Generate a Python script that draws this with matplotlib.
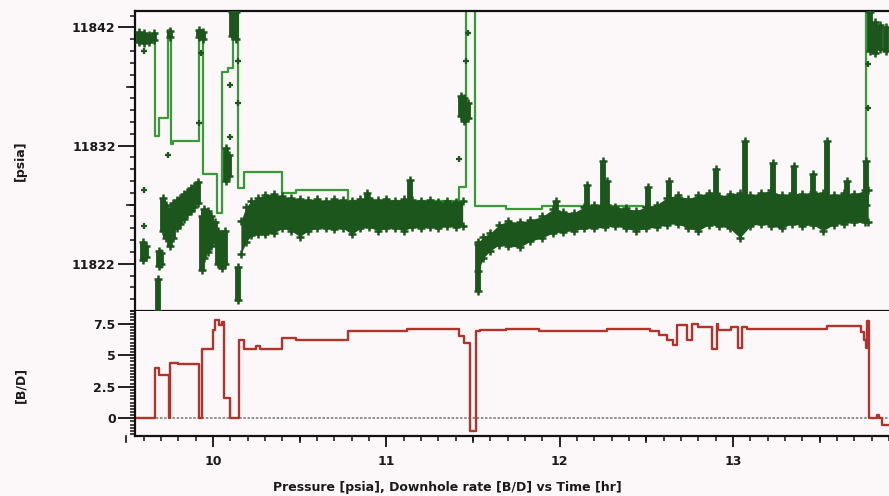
import matplotlib
matplotlib.use("Agg")
import matplotlib.pyplot as plt
import matplotlib.transforms as mtrans
from matplotlib.lines import Line2D
from matplotlib.ticker import FixedLocator, MultipleLocator
import numpy as np

# ---- pressure step line (psia vs hr), drawn as steps-post
line_t = [9.55, 9.666, 9.69, 9.74, 9.755, 9.77, 9.92, 9.94, 10.02, 10.05,
          10.085, 10.115, 10.145, 10.18, 10.40, 10.48, 10.78, 11.42, 11.46,
          11.51, 11.69, 11.90, 12.48, 13.77, 13.90]
line_p = [11841.4, 11832.85, 11834.3, 11841.8, 11832.1, 11832.4, 11841.8,
          11829.6, 11826.3, 11838.2, 11838.6, 11843.8, 11828.4, 11829.8,
          11828.0, 11828.2, 11827.3, 11828.5, 11843.8, 11826.9, 11826.6,
          11826.9, 11826.8, 11843.8, 11843.8]

# ---- gauge points: dense bands (lower / upper envelope)
band1_t = [10.16, 10.19, 10.22, 10.26, 10.30, 10.35, 10.40, 10.45, 10.50,
           10.55, 10.60, 10.65, 10.70, 10.75, 10.80, 10.85, 10.90, 10.95,
           11.00, 11.05, 11.10, 11.15, 11.20, 11.25, 11.30, 11.35, 11.40, 11.44]
band1_lo = [11822.8, 11823.8, 11824.4, 11824.5, 11824.5, 11824.6, 11825.0,
            11824.8, 11824.3, 11824.8, 11825.0, 11825.0, 11824.9, 11825.0,
            11824.5, 11825.0, 11825.1, 11824.8, 11825.0, 11825.0, 11824.8,
            11825.1, 11825.0, 11825.1, 11825.0, 11825.2, 11825.1, 11825.2]
band1_hi = [11825.6, 11826.8, 11827.3, 11827.6, 11827.8, 11827.9, 11827.7,
            11827.6, 11827.5, 11827.4, 11827.5, 11827.3, 11827.5, 11827.4,
            11827.3, 11827.5, 11827.6, 11827.4, 11827.5, 11827.3, 11827.5,
            11827.4, 11827.3, 11827.4, 11827.2, 11827.3, 11827.2, 11827.3]

band2_t = [11.53, 11.56, 11.60, 11.65, 11.70, 11.77, 11.83, 11.90, 11.96,
           12.02, 12.08, 12.14, 12.20, 12.26, 12.32, 12.38, 12.44, 12.50,
           12.56, 12.62, 12.68, 12.74, 12.80, 12.86, 12.92, 12.98, 13.04,
           13.10, 13.16, 13.22, 13.28, 13.34, 13.40, 13.46, 13.52, 13.58,
           13.64, 13.70, 13.76, 13.78]
band2_lo = [11821.4, 11822.5, 11823.1, 11823.6, 11823.5, 11823.4, 11823.9,
            11824.2, 11824.6, 11824.7, 11824.8, 11825.0, 11825.0, 11825.1,
            11825.2, 11825.0, 11824.8, 11825.0, 11825.1, 11825.3, 11825.4,
            11825.0, 11824.8, 11825.3, 11825.2, 11825.0, 11824.2, 11825.2,
            11825.4, 11825.2, 11825.0, 11825.4, 11825.2, 11825.3, 11824.8,
            11825.3, 11825.4, 11825.5, 11825.5, 11825.5]
band2_hi = [11823.8, 11824.3, 11824.6, 11825.3, 11825.6, 11825.5, 11825.7,
            11826.0, 11826.6, 11826.4, 11826.3, 11826.8, 11827.0, 11827.0,
            11826.8, 11826.7, 11826.5, 11826.8, 11827.0, 11827.6, 11827.8,
            11827.5, 11827.8, 11828.0, 11827.7, 11827.9, 11828.0, 11827.8,
            11828.0, 11828.2, 11827.8, 11828.0, 11827.9, 11828.1, 11828.0,
            11827.8, 11828.0, 11827.9, 11828.2, 11828.2]

# ---- gauge points: vertical clusters (time, low, high)
clus_t = [9.57, 9.60, 9.63, 9.66, 9.75, 9.92, 9.94, 10.11, 10.13,
          9.595, 9.61, 9.69, 9.70, 9.68,
          9.71, 9.73, 9.75, 9.77, 9.79, 9.81, 9.83, 9.85, 9.87, 9.89, 9.91,
          9.935, 9.95, 9.97, 9.99, 10.01, 10.03, 10.05, 10.07,
          10.075, 10.09, 10.145]
clus_lo = [11840.8, 11840.7, 11840.8, 11840.9, 11841.2, 11841.2, 11841.0, 11841.3, 11841.0,
           11822.3, 11822.6, 11821.8, 11822.0, 11818.0,
           11824.8, 11824.2, 11823.5, 11824.2, 11825.0, 11825.4, 11825.8, 11826.2, 11826.5, 11826.8, 11827.1,
           11821.5, 11822.5, 11823.0, 11823.5, 11823.8, 11822.0, 11821.6, 11822.0,
           11829.0, 11829.4, 11818.9]
clus_hi = [11841.6, 11841.5, 11841.4, 11841.5, 11841.7, 11841.8, 11841.6, 11843.3, 11843.3,
           11823.8, 11823.5, 11823.1, 11822.9, 11820.7,
           11827.6, 11827.0, 11826.6, 11827.1, 11827.4, 11827.6, 11827.9, 11828.1, 11828.4, 11828.6, 11828.9,
           11826.0, 11826.6, 11826.5, 11826.0, 11825.5, 11824.8, 11824.5, 11824.8,
           11831.8, 11831.2, 11821.7]

spike_t = [10.89, 11.135, 11.43, 11.45, 11.47, 11.53, 11.98, 12.16, 12.25,
           12.27, 12.51, 12.63, 12.90, 13.07, 13.23, 13.35, 13.46, 13.54,
           13.66, 13.77, 13.79, 13.82, 13.85, 13.88]
spike_lo = [11827.0, 11827.0, 11834.5, 11834.1, 11834.3, 11819.7, 11826.5,
            11826.5, 11827.0, 11827.0, 11826.5, 11826.5, 11827.0, 11827.0,
            11827.0, 11827.0, 11827.0, 11827.0, 11827.0, 11827.0, 11840.0,
            11839.8, 11840.2, 11840.0]
spike_hi = [11828.0, 11829.1, 11836.2, 11836.0, 11835.6, 11823.7, 11827.3,
            11828.7, 11830.7, 11829.0, 11828.5, 11829.0, 11830.0, 11832.4,
            11830.5, 11830.3, 11829.6, 11832.4, 11829.0, 11830.7, 11843.3,
            11842.5, 11842.2, 11842.0]

# ---- isolated gauge points
pt_t = [9.60, 9.60, 9.60, 9.74, 9.93, 9.92, 10.10, 10.10, 10.145, 10.145,
        11.42, 11.46, 11.47, 13.78, 13.78]
pt_p = [11840.0, 11828.2, 11825.2, 11831.2, 11839.8, 11833.9, 11837.1,
        11832.7, 11839.2, 11835.6, 11830.9, 11839.2, 11841.5, 11835.2, 11838.9]

# ---- downhole rate (B/D), steps-post
rate_t = [9.55, 9.666, 9.69, 9.743, 9.752, 9.80, 9.92, 9.935, 10.00, 10.01,
          10.035, 10.05, 10.065, 10.10, 10.15, 10.18, 10.25, 10.27, 10.40,
          10.48, 10.78, 11.12, 11.42, 11.45, 11.485, 11.515, 11.54, 11.69,
          11.88, 12.27, 12.52, 12.57, 12.62, 12.655, 12.675, 12.735, 12.765,
          12.80, 12.88, 12.905, 12.915, 12.99, 13.03, 13.05, 13.08, 13.54,
          13.74, 13.755, 13.77, 13.775, 13.782, 13.83, 13.84, 13.86, 13.90]
rate_v = [0, 4.0, 3.4, 0, 4.4, 4.3, 0, 5.5, 7.0, 7.8,
          7.4, 7.6, 1.6, 0, 6.2, 5.5, 5.7, 5.5, 6.4,
          6.2, 6.9, 7.05, 6.5, 6.0, -1.0, 6.9, 7.0, 7.05,
          6.9, 7.1, 6.9, 6.6, 6.2, 5.8, 7.4, 6.2, 7.5,
          7.2, 5.5, 7.5, 7.0, 7.2, 5.6, 7.2, 7.05, 7.35,
          6.8, 6.2, 5.6, 7.7, 0.05, 0.3, 0.05, -0.5, -0.5]

BG = "#fcf7f8"
DK = "#1c561c"
LG = "#3a9a3a"
RED = "#b0342b"
TXT = "#1a1a1a"

fig = plt.figure(figsize=(8.89, 4.96), dpi=100, facecolor=BG)
ax1 = fig.add_axes([0.152, 0.373, 0.848, 0.605], facecolor=BG)
ax2 = fig.add_axes([0.152, 0.121, 0.848, 0.252], facecolor=BG, sharex=ax1)

# pressure
ax1.plot(line_t, line_p, drawstyle="steps-post", color=LG, lw=1.6, zorder=2)
for bt, blo, bhi in [(band1_t, band1_lo, band1_hi), (band2_t, band2_lo, band2_hi)]:
    ax1.fill_between(bt, blo, bhi, color=DK, lw=0, zorder=3)
    ax1.plot(bt, blo, "+", color=DK, ms=6, mew=1.8, zorder=3)
    ax1.plot(bt, bhi, "+", color=DK, ms=6, mew=1.8, zorder=3)
for ct, clo, chi in [(clus_t, clus_lo, clus_hi), (spike_t, spike_lo, spike_hi)]:
    ax1.vlines(ct, clo, chi, colors=DK, lw=4.2, zorder=3)
    ax1.plot(ct, clo, "+", color=DK, ms=6, mew=1.8, zorder=3)
    ax1.plot(ct, chi, "+", color=DK, ms=6, mew=1.8, zorder=3)
ax1.plot(pt_t, pt_p, "+", color=DK, ms=5, mew=1.6, zorder=3)

ax1.set_xlim(9.55, 13.90)
ax1.set_ylim(11818.0, 11843.4)

# rate
ax2.axhline(0, color="#7f7f7f", lw=1.2, ls=(0, (1.5, 1)), zorder=1)
ax2.plot(rate_t, rate_v, drawstyle="steps-post", color=RED, lw=1.7, zorder=2)
ax2.set_ylim(-1.4, 8.5)

# spines
for ax in (ax1, ax2):
    ax.spines["right"].set_visible(False)
    for s in ("left", "top", "bottom"):
        ax.spines[s].set_linewidth(1.6)
        ax.spines[s].set_color("#111111")
ax2.spines["top"].set_visible(False)

# ticks
ax1.yaxis.set_major_locator(FixedLocator([11822, 11832, 11842]))
ax1.yaxis.set_minor_locator(MultipleLocator(1))
ax1.tick_params(axis="x", which="both", bottom=False, labelbottom=False)
ax2.yaxis.set_major_locator(FixedLocator([0, 2.5, 5, 7.5]))
ax2.yaxis.set_major_formatter(plt.FuncFormatter(lambda v, p: f"{v:g}"))
ax2.yaxis.set_minor_locator(MultipleLocator(0.25))
ax2.xaxis.set_major_locator(MultipleLocator(1))
ax2.xaxis.set_minor_locator(MultipleLocator(0.1))
for ax in (ax1, ax2):
    ax.tick_params(which="major", length=12, width=1.3, color="#111111",
                   labelsize=9, labelcolor=TXT, pad=2)
    ax.tick_params(which="minor", length=3.5, width=1.1, color="#111111")
    for lab in ax.get_xticklabels() + ax.get_yticklabels():
        lab.set_fontweight("bold")
ax2.tick_params(axis="x", which="major", length=8, pad=6)
ax2.tick_params(axis="x", which="minor", length=3.5)

# medium ticks (every 5 psi, every half hour)
def medium_ticks(ax, axis, vals, frac):
    if axis == "y":
        tr = mtrans.blended_transform_factory(ax.transAxes, ax.transData)
        for v in vals:
            ax.add_line(Line2D([-frac, 0], [v, v], transform=tr, color="#111111",
                               lw=1.2, clip_on=False))
    else:
        tr = mtrans.blended_transform_factory(ax.transData, ax.transAxes)
        for v in vals:
            ax.add_line(Line2D([v, v], [-frac, 0], transform=tr, color="#111111",
                               lw=1.2, clip_on=False))

medium_ticks(ax1, "y", [11827, 11837], 0.011)
medium_ticks(ax2, "x", [9.5, 10.5, 11.5, 12.5, 13.5], 0.05)

fig.text(0.023, 0.677, "[psia]", rotation=90, ha="center", va="center",
         fontsize=9, color=TXT, fontweight="bold")
fig.text(0.023, 0.224, "[B/D]", rotation=90, ha="center", va="center",
         fontsize=9, color=TXT, fontweight="bold")
fig.text(0.503, 0.018, "Pressure [psia], Downhole rate [B/D] vs Time [hr]",
         ha="center", va="center", fontsize=9, color=TXT, fontweight="bold")

fig.savefig("out.png", dpi=100, facecolor=BG)
